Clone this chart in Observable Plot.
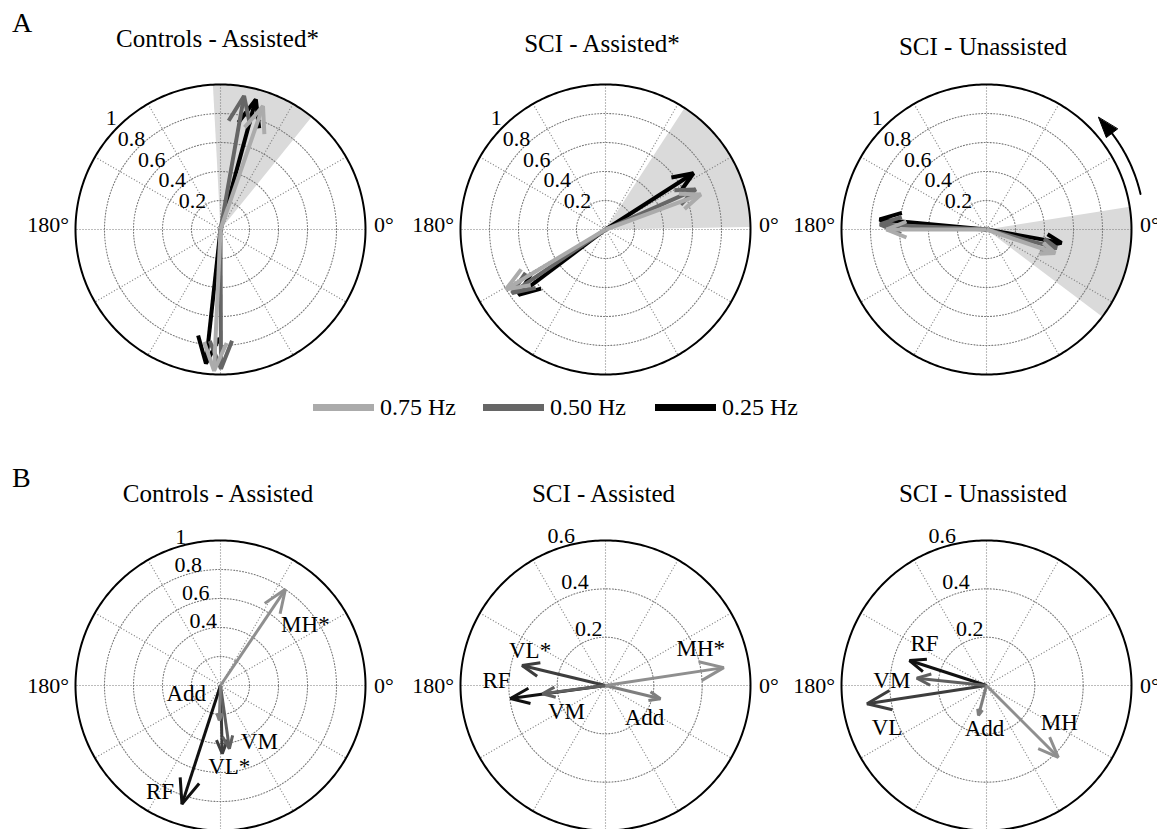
<!DOCTYPE html>
<html>
<head>
<meta charset="utf-8">
<script src="https://cdn.jsdelivr.net/npm/d3@7"></script>
<script src="https://cdn.jsdelivr.net/npm/@observablehq/plot@0.6"></script>
<style>
  html, body { margin: 0; padding: 0; background: #fff; overflow: hidden; }
  #root { position: relative; width: 1157px; height: 829px; font-family: "Liberation Serif", "Times New Roman", serif; color: #000; }
  .txt { position: absolute; white-space: nowrap; line-height: 1; }
  .sw { position: absolute; height: 7px; }
</style>
</head>
<body>
<div id="root"></div>
<script>
// ---------------- DATA ----------------
// Panel A: frequency vectors (two vectors per frequency), angles in degrees, magnitudes
const freqKeys = ["0.25 Hz", "0.50 Hz", "0.75 Hz"];           // draw order
const freqColors = ["#000000", "#666666", "#ababab"];
const legendKeys = ["0.75 Hz", "0.50 Hz", "0.25 Hz"];
const legendColors = ["#ababab", "#666666", "#000000"];

const aTitles = ["Controls - Assisted*", "SCI - Assisted*", "SCI - Unassisted"];
const aVecFreq = ["0.25 Hz", "0.25 Hz", "0.50 Hz", "0.50 Hz", "0.75 Hz", "0.75 Hz"];
const aCtrlAngle = [74.8, -96.2, 80.0, -89.8, 71.0, -92.6];
const aCtrlMag   = [0.93, 0.93, 0.935, 0.96, 0.90, 0.975];
const aSciAAngle = [32.6, 216.9, 24.0, 214.2, 20.2, 211.0];
const aSciAMag   = [0.72, 0.75, 0.68, 0.78, 0.70, 0.80];
const aSciUAngle = [174.6, -10.1, 177.3, -14.7, 180.0, -18.9];
const aSciUMag   = [0.74, 0.525, 0.735, 0.50, 0.69, 0.50];
const aWedgeStart = [51, 1, -37];
const aWedgeEnd   = [93, 57, 9];
const aRmax = 1;
const aRingTicks  = [0.2, 0.4, 0.6, 0.8, 1];
const aRingLabels = ["0.2", "0.4", "0.6", "0.8", "1"];

// Panel B: muscle vectors
const bTitles = ["Controls - Assisted", "SCI - Assisted", "SCI - Unassisted"];
const muscles = ["RF", "VL", "VM", "Add", "MH"];
const muscleColors = ["#111111", "#3d3d3d", "#5f5f5f", "#7e7e7e", "#8f8f8f"];
const bCtrlText  = ["RF", "VL*", "VM", "Add", "MH*"];
const bCtrlAngle = [-108, -88.5, -82, -92, 56];
const bCtrlMag   = [0.86, 0.47, 0.44, 0.24, 0.80];
const bSciAText  = ["RF", "VL*", "VM", "Add", "MH*"];
const bSciAAngle = [187.8, 166.5, 187.5, -13.6, 8.6];
const bSciAMag   = [0.397, 0.355, 0.263, 0.234, 0.495];
const bSciUText  = ["RF", "VL", "VM", "Add", "MH"];
const bSciUAngle = [162, 188.7, 174, 255, -45];
const bSciUMag   = [0.335, 0.50, 0.29, 0.128, 0.42];
const bRmax = [1, 0.6, 0.6];
const bCtrlRingTicks  = [0.2, 0.4, 0.6, 0.8, 1];
const bCtrlRingLabels = ["", "0.4", "0.6", "0.8", "1"];
const bSciRingTicks   = [0.2, 0.4, 0.6];
const bSciRingLabels  = ["0.2", "0.4", "0.6"];

// ---------------- LAYOUT (positions / styles) ----------------
const R_PX = 145, HALF = 165;
const colX = [219.5, 604.5, 985.5];
const rowY = [228.5, 684.5];
const labelOffsets = [ // pixel offsets of muscle labels from arrow tips (dx, dy screen)
  {RF: [-22, -12], VL: [7, 13], VM: [30, -7], Add: [-33, -27], MH: [20, 35]},
  {RF: [-14, -18], VL: [8, -15], VM: [24, 18], Add: [-16, 19], MH: [-23, -19]},
  {RF: [15, -17], VL: [20, 24], VM: [-25, 2], Add: [6, 13], MH: [1, -35]}
];
const FONT = "Liberation Serif, Times New Roman, serif";
const GRID = "#7a7a7a";

const root = document.getElementById("root");
const rad = a => a * Math.PI / 180;

function arrowRows(angles, mags, keys) {
  const rows = [];
  angles.forEach((a, i) => {
    const m = mags[i], c = Math.cos(rad(a)), s = Math.sin(rad(a));
    const tip = [m * c, m * s];
    const b = [0.8 * m * c, 0.8 * m * s];
    const w = 0.08 * m;
    const wl = [b[0] - w * s, b[1] + w * c];
    const wr = [b[0] + w * s, b[1] - w * c];
    [[0, 0], tip].forEach(p => rows.push({x: p[0], y: p[1], z: i + "s", key: keys[i]}));
    [wl, tip, wr].forEach(p => rows.push({x: p[0], y: p[1], z: i + "h", key: keys[i]}));
  });
  return rows;
}

function polarPanel(o) {
  const k = R_PX / o.rmax;            // px per data unit
  const L = HALF / k;
  const circ = (r, id) => d3.range(0, 360, 1).map(a => ({x: r * Math.cos(rad(a)), y: r * Math.sin(rad(a)), z: id}));
  const marks = [];
  if (o.wedge) {
    const arc = d3.range(o.wedge[0], o.wedge[1], 0.5).concat([o.wedge[1]]);
    const pts = [{x: 0, y: 0}].concat(arc.map(a => ({x: o.rmax * Math.cos(rad(a)), y: o.rmax * Math.sin(rad(a))})));
    marks.push(Plot.line(pts, {x: "x", y: "y", fill: "#dadada", stroke: "none", curve: "linear-closed"}));
  }
  const rings = o.ticks.filter(t => t < o.rmax - 1e-9).flatMap(t => circ(t, String(t)));
  marks.push(Plot.line(rings, {x: "x", y: "y", z: "z", curve: "linear-closed", stroke: GRID, strokeWidth: 1.1, strokeDasharray: "1,2"}));
  const spokes = d3.range(0, 180, 30).map(a => ({
    x1: o.rmax * Math.cos(rad(a)), y1: o.rmax * Math.sin(rad(a)),
    x2: -o.rmax * Math.cos(rad(a)), y2: -o.rmax * Math.sin(rad(a))
  }));
  marks.push(Plot.link(spokes, {x1: "x1", y1: "y1", x2: "x2", y2: "y2", stroke: GRID, strokeWidth: 1.1, strokeDasharray: "1,2"}));
  marks.push(Plot.line(circ(o.rmax, "outer"), {x: "x", y: "y", curve: "linear-closed", stroke: "#000", strokeWidth: 2}));

  // ring tick labels
  const tl = o.ticks.map((t, i) => ({t, label: o.tickText[i]})).filter(d => d.label);
  marks.push(Plot.text(tl, {
    x: d => (d.t + o.tickPad / k) * Math.cos(rad(o.tickAngle)),
    y: d => (d.t + o.tickPad / k) * Math.sin(rad(o.tickAngle)),
    text: "label", fontSize: 22, fontFamily: FONT, fill: "#000"
  }));
  // angle labels
  marks.push(Plot.text([{x: -(o.rmax + 6.5 / k), y: 0, s: "180°"}], {x: "x", y: "y", text: "s", textAnchor: "end", dy: o.axisDy, fontSize: 22, fontFamily: FONT, fill: "#000"}));
  marks.push(Plot.text([{x: (o.rmax + 8.5 / k), y: 0, s: "0°"}], {x: "x", y: "y", text: "s", textAnchor: "start", dy: o.axisDy, fontSize: 22, fontFamily: FONT, fill: "#000"}));

  // vectors
  marks.push(Plot.line(arrowRows(o.angles, o.mags, o.keys), {
    x: "x", y: "y", z: "z", stroke: "key", strokeWidth: o.strokeWidth,
    strokeLinejoin: "miter", strokeLinecap: "butt"
  }));

  // vector labels
  if (o.labels) {
    const rows = o.angles.map((a, i) => {
      const off = o.labelOffsets[o.keys[i]];
      return {
        x: o.mags[i] * Math.cos(rad(a)) + off[0] / k,
        y: o.mags[i] * Math.sin(rad(a)) - off[1] / k,
        t: o.labels[i]
      };
    });
    marks.push(Plot.text(rows, {x: "x", y: "y", text: "t", fontSize: 23, fontFamily: FONT, fill: "#000"}));
  }

  // rotation direction arrow
  if (o.rotation) {
    const rr = 1.09 * o.rmax;
    const arc = d3.range(13, 40, 0.5).map(a => ({x: rr * Math.cos(rad(a)), y: rr * Math.sin(rad(a))}));
    marks.push(Plot.line(arc, {x: "x", y: "y", stroke: "#000", strokeWidth: 2}));
    const tipA = 45, baseA = 37.5, hw = 7 / k;
    const tri = [
      {x: (rr + 0.003) * Math.cos(rad(tipA)), y: (rr + 0.003) * Math.sin(rad(tipA))},
      {x: (rr - hw) * Math.cos(rad(baseA)), y: (rr - hw) * Math.sin(rad(baseA))},
      {x: (rr + hw) * Math.cos(rad(baseA)), y: (rr + hw) * Math.sin(rad(baseA))}
    ];
    marks.push(Plot.line(tri, {x: "x", y: "y", fill: "#000", stroke: "#000", strokeWidth: 1, curve: "linear-closed"}));
  }

  const svg = Plot.plot({
    width: 2 * HALF, height: 2 * HALF, margin: 0,
    x: {domain: [-L, L], axis: null},
    y: {domain: [-L, L], axis: null},
    color: {domain: o.colorDomain, range: o.colorRange},
    style: {background: "transparent", overflow: "visible", fontFamily: FONT},
    marks
  });
  svg.style.position = "absolute";
  svg.style.left = (o.cx - HALF) + "px";
  svg.style.top = (o.cy - HALF) + "px";
  svg.style.maxWidth = "none";
  root.appendChild(svg);
}

function addText(str, cx, baseline, size, anchor) {
  const d = document.createElement("div");
  d.className = "txt";
  d.textContent = str;
  d.style.fontSize = size + "px";
  d.style.top = (baseline - 0.8375 * size) + "px";
  if (anchor === "middle") { d.style.left = cx + "px"; d.style.transform = "translateX(-50%)"; }
  else d.style.left = cx + "px";
  root.appendChild(d);
}

// ---------------- PANELS A ----------------
const aAngles = [aCtrlAngle, aSciAAngle, aSciUAngle];
const aMags = [aCtrlMag, aSciAMag, aSciUMag];
for (let j = 0; j < 3; j++) {
  polarPanel({
    cx: colX[j], cy: rowY[0], rmax: aRmax,
    ticks: aRingTicks, tickText: aRingLabels, tickAngle: 134.5, tickPad: 11, axisDy: -4.5,
    angles: aAngles[j], mags: aMags[j], keys: aVecFreq,
    colorDomain: freqKeys, colorRange: freqColors, strokeWidth: 4,
    wedge: [aWedgeStart[j], aWedgeEnd[j]],
    rotation: j === 2
  });
}
// ---------------- PANELS B ----------------
const bAngles = [bCtrlAngle, bSciAAngle, bSciUAngle];
const bMags = [bCtrlMag, bSciAMag, bSciUMag];
const bTexts = [bCtrlText, bSciAText, bSciUText];
for (let j = 0; j < 3; j++) {
  polarPanel({
    cx: colX[j], cy: rowY[1], rmax: bRmax[j],
    ticks: j === 0 ? bCtrlRingTicks : bSciRingTicks,
    tickText: j === 0 ? bCtrlRingLabels : bSciRingLabels,
    tickAngle: j === 0 ? 105 : 106.5, tickPad: j === 0 ? 9 : 11, axisDy: 0.5,
    angles: bAngles[j], mags: bMags[j], keys: muscles,
    colorDomain: muscles, colorRange: muscleColors, strokeWidth: 3,
    labels: bTexts[j], labelOffsets: labelOffsets[j]
  });
}

// ---------------- TEXT ----------------
addText("A", 12, 32, 28, "start");
addText("B", 12, 487, 28, "start");
const aTitleBase = [46.7, 51.7, 55];
const aTitleX = [217.5, 602, 983];
aTitles.forEach((t, j) => addText(t, aTitleX[j], aTitleBase[j], 25, "middle"));
const bTitleX = [218, 603.5, 983];
bTitles.forEach((t, j) => addText(t, bTitleX[j], 502, 25, "middle"));

// legend
const swX = [313, 483, 655];
legendKeys.forEach((key, i) => {
  const s = document.createElement("div");
  s.className = "sw";
  s.style.left = swX[i] + "px";
  s.style.width = "61px";
  s.style.top = (407 - 3.5) + "px";
  s.style.background = legendColors[i];
  root.appendChild(s);
  addText(key, swX[i] + 67, 415, 24, "start");
});
</script>
</body>
</html>
